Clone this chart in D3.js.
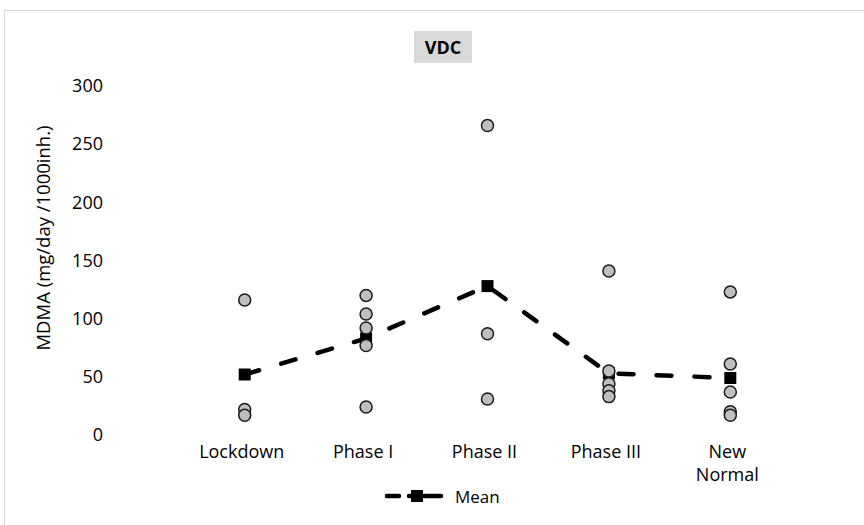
<!DOCTYPE html>
<html>
<head>
<meta charset="utf-8">
<script src="https://cdn.jsdelivr.net/npm/d3@7"></script>
<style>
  html, body { margin: 0; padding: 0; background: #fff; }
  svg { display: block; font-family: "Open Sans", sans-serif; }
</style>
</head>
<body>
<svg id="chart" width="864" height="525"></svg>
<script>
// ---- data ----
const categories = ["Lockdown", "Phase I", "Phase II", "Phase III", "New Normal"];
const lockdownValues = [116, 22, 17];
const phaseIValues = [120, 104, 92, 77, 24];
const phaseIIValues = [266, 87, 31];
const phaseIIIValues = [141, 55, 44, 38, 33];
const newNormalValues = [123, 61, 37, 20, 17];
const meanValues = [52, 83, 128, 53, 49];
const yTicks = [0, 50, 100, 150, 200, 250, 300];
const titleText = "VDC";
const yLabel = "MDMA (mg/day /1000inh.)";
const legendLabel = "Mean";

const seriesByCat = [lockdownValues, phaseIValues, phaseIIValues, phaseIIIValues, newNormalValues];

// ---- layout ----
const svg = d3.select("#chart");
const plot = { left: 184, right: 791, top: 86, bottom: 435 };

// outer chart border (partially visible)
svg.append("rect")
  .attr("x", 4.5).attr("y", 10.5)
  .attr("width", 900).attr("height", 600)
  .attr("fill", "none").attr("stroke", "#d9d9d9").attr("stroke-width", 1);

const x = d3.scaleBand().domain(categories).range([plot.left, plot.right]);
const y = d3.scaleLinear().domain([0, 300]).range([plot.bottom, plot.top]);
const cx = c => x(c) + x.bandwidth() / 2;

// title
const titleG = svg.append("g");
titleG.append("rect")
  .attr("x", 414).attr("y", 31).attr("width", 58).attr("height", 32)
  .attr("fill", "#d9d9d9");
titleG.append("text")
  .attr("x", 443).attr("y", 54)
  .attr("text-anchor", "middle")
  .attr("font-size", 18).attr("font-weight", 700)
  .attr("fill", "#000")
  .text(titleText);

// y axis (no line, no ticks)
const yAxis = d3.axisLeft(y).tickValues(yTicks).tickSize(0).tickPadding(0);
const yG = svg.append("g").attr("transform", `translate(${103},0)`).call(yAxis);
yG.select(".domain").remove();
yG.selectAll("text").attr("font-size", 18).attr("fill", "#000")
  .attr("font-family", "Open Sans, sans-serif");

// y label
svg.append("text")
  .attr("transform", `translate(50,${238}) rotate(-90)`)
  .attr("text-anchor", "middle")
  .attr("font-size", 18.5).attr("fill", "#000")
  .text(yLabel);

// x axis labels
const xAxis = d3.axisBottom(x).tickSize(0).tickPadding(0);
const xG = svg.append("g").attr("transform", `translate(0,${plot.bottom})`).call(xAxis);
xG.select(".domain").remove();
xG.selectAll(".tick text").remove();
xG.selectAll(".tick").each(function(d) {
  const words = d === "New Normal" ? ["New", "Normal"] : [d];
  const t = d3.select(this).append("text")
    .attr("text-anchor", "middle")
    .attr("font-size", 18).attr("fill", "#000")
    .attr("font-family", "Open Sans, sans-serif");
  words.forEach((w, i) => {
    t.append("tspan").attr("x", -3).attr("y", 23 + i * 23).text(w);
  });
});

// points
const pts = [];
seriesByCat.forEach((vals, i) => vals.forEach(v => pts.push({ c: categories[i], v })));

// mean line (drawn under circles)
const line = d3.line().x((d, i) => cx(categories[i])).y(d => y(d));
svg.append("path")
  .datum(meanValues)
  .attr("d", line)
  .attr("fill", "none").attr("stroke", "#000")
  .attr("stroke-width", 4.5).attr("stroke-linecap", "round")
  .attr("stroke-dasharray", "15 23");

svg.append("g").selectAll("rect.mean")
  .data(meanValues)
  .join("rect")
  .attr("class", "mean")
  .attr("x", (d, i) => cx(categories[i]) - 6)
  .attr("y", d => y(d) - 6)
  .attr("width", 12).attr("height", 12)
  .attr("fill", "#000");

svg.append("g").selectAll("circle")
  .data(pts)
  .join("circle")
  .attr("cx", d => cx(d.c))
  .attr("cy", d => y(d.v))
  .attr("r", 6)
  .attr("fill", "#bfbfbf")
  .attr("stroke", "#1a1a1a").attr("stroke-width", 1.5);

// legend
const lg = svg.append("g");
lg.append("line")
  .attr("x1", 387).attr("x2", 441).attr("y1", 496).attr("y2", 496)
  .attr("stroke", "#000").attr("stroke-width", 4.5).attr("stroke-linecap", "round")
  .attr("stroke-dasharray", "12 10 40");
lg.append("rect").attr("x", 411).attr("y", 490).attr("width", 12).attr("height", 12).attr("fill", "#000");
lg.append("text").attr("x", 455).attr("y", 503)
  .attr("font-size", 17).attr("fill", "#000").text(legendLabel);
</script>
</body>
</html>
